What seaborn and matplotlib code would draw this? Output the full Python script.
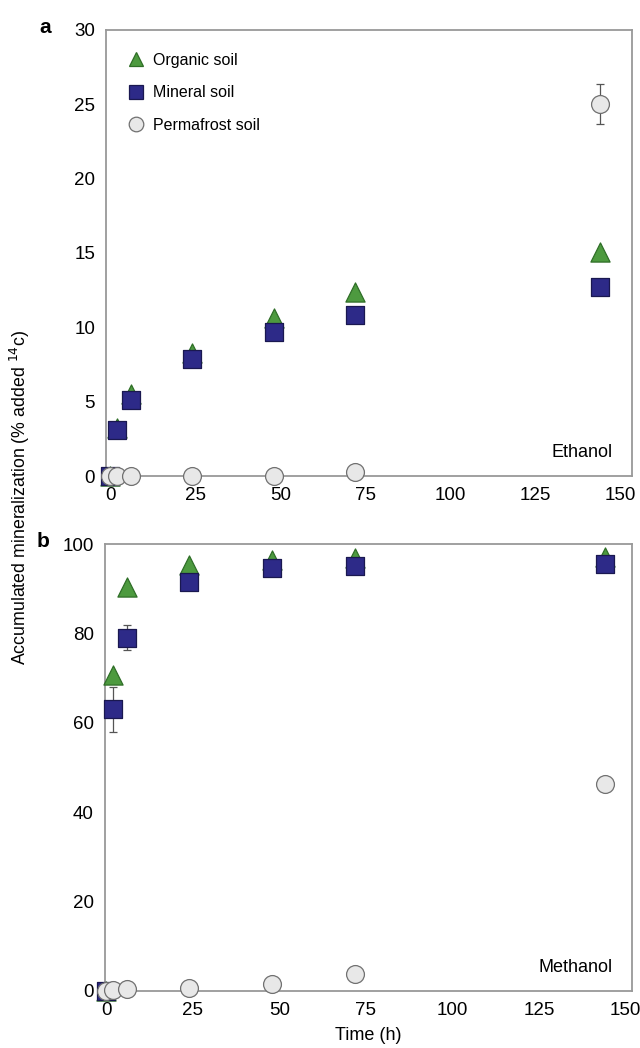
import seaborn as sns
import matplotlib.pyplot as plt
import pandas as pd
import numpy as np

# sampling times (h)
time_h = [0, 2, 6, 24, 48, 72, 144]

# panel a: ethanol
eth_organic = [0, 3.2, 5.5, 8.3, 10.6, 12.4, 15.1]
eth_mineral = [0, 3.1, 5.1, 7.9, 9.7, 10.8, 12.7]
eth_permafrost = [0, 0, 0, 0, 0, 0.3, 25.0]
eth_permafrost_err = [0, 0, 0, 0, 0, 0, 1.35]

# panel b: methanol
meth_organic = [0, 70.7, 90.4, 95.3, 96.5, 96.8, 97.0]
meth_mineral = [0, 63.0, 79.0, 91.5, 94.6, 95.1, 95.5]
meth_mineral_err = [0, 5.0, 2.8, 0, 0, 0, 0]
meth_permafrost = [0, 0.3, 0.5, 0.7, 1.5, 3.7, 46.3]

series_names = ["Organic soil", "Mineral soil", "Permafrost soil"]

sns.set_style("white")
plt.rcParams['font.family'] = ['Liberation Sans', 'DejaVu Sans']
plt.rcParams['text.color'] = 'black'
plt.rcParams['xtick.color'] = 'black'
plt.rcParams['ytick.color'] = 'black'

fig = plt.figure(figsize=(6.4, 10.48), dpi=100)
ax_a = fig.add_axes([0.166, 0.5458, 0.822, 0.4256])
ax_b = fig.add_axes([0.164, 0.0544, 0.824, 0.4265])

styles = {
    "Organic soil": dict(marker="^", color="#4d9a3f", edgecolor="#2f6e27", s=190),
    "Mineral soil": dict(marker="s", color="#2d2a88", edgecolor="#1a1850", s=155),
    "Permafrost soil": dict(marker="o", color="#e8e8e8", edgecolor="#707070", s=165),
}


def draw_panel(ax, values, errs, ylim, yticks, xlim, label, letter):
    for i, name in enumerate(series_names):
        df = pd.DataFrame({"t": time_h, "v": values[i]})
        st = styles[name]
        if errs[i] is not None:
            ax.errorbar(time_h, values[i], yerr=errs[i], fmt="none",
                        ecolor="#555555", elinewidth=0.9, capsize=3,
                        capthick=0.9, zorder=2 + i, clip_on=False)
        sns.scatterplot(data=df, x="t", y="v", ax=ax, marker=st["marker"],
                        color=st["color"], edgecolor=st["edgecolor"],
                        linewidth=0.9, s=st["s"], label=name,
                        zorder=3 + i, clip_on=False, legend=False)
    ax.set_xlim(*xlim)
    ax.set_ylim(*ylim)
    ax.set_yticks(yticks)
    ax.set_xticks([0, 25, 50, 75, 100, 125, 150])
    ax.tick_params(axis="both", labelsize=13.5, length=5, width=1,
                   color="#888888", labelcolor="black", direction="out", pad=3)
    for sp in ax.spines.values():
        sp.set_color("#999999")
        sp.set_linewidth(1.3)
    ax.set_xlabel("")
    ax.set_ylabel("")
    ax.text(0.963, 0.043, label, transform=ax.transAxes, ha="right",
            va="baseline", fontsize=13)
    ax.text(-0.117, 1.005, letter, transform=ax.transAxes, ha="center",
            va="center", fontsize=15, fontweight="bold")


draw_panel(ax_a, [eth_organic, eth_mineral, eth_permafrost],
           [None, None, eth_permafrost_err], (0, 30), [0, 5, 10, 15, 20, 25, 30],
           (-1.2, 153.5), "Ethanol", "a")
draw_panel(ax_b, [meth_organic, meth_mineral, meth_permafrost],
           [None, meth_mineral_err, None], (0, 100), [0, 20, 40, 60, 80, 100],
           (-0.4, 152.0), "Methanol", "b")

# legend in panel a
handles = []
for name in series_names:
    st = styles[name]
    h = plt.Line2D([], [], linestyle="none", marker=st["marker"],
                   markerfacecolor=st["color"], markeredgecolor=st["edgecolor"],
                   markeredgewidth=0.9, markersize=10.5)
    handles.append(h)
ax_a.legend(handles, series_names, loc="upper left", frameon=False,
            fontsize=11.5, bbox_to_anchor=(0.0, 0.99), borderaxespad=0.75,
            handletextpad=0.4, labelspacing=1.1, handlelength=1.4)

fig.text(0.031, 0.525, "Accumulated mineralization (% added $^{14}$c)",
         rotation=90, ha="center", va="center", fontsize=12.8)
fig.text(0.575, 0.004, "Time (h)", ha="center", va="bottom", fontsize=13)

fig.savefig("out.png", dpi=100)
